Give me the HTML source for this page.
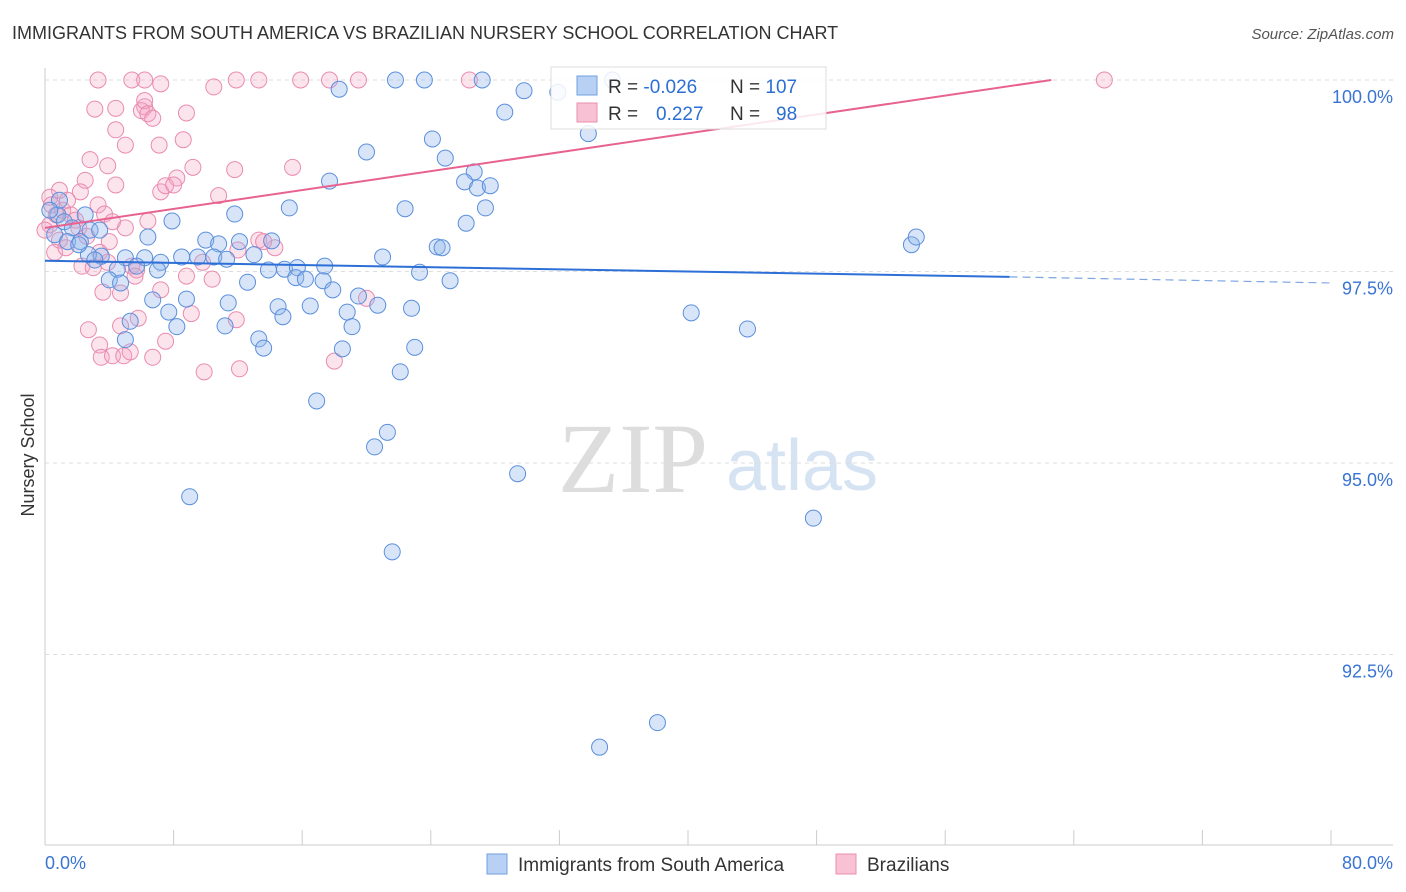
<!DOCTYPE html>
<html><head><meta charset="utf-8"><style>
body{margin:0;background:#fff;font-family:"Liberation Sans",sans-serif;}
svg{display:block}
</style></head><body>
<svg id="chart" width="1406" height="892" xmlns="http://www.w3.org/2000/svg">
<text x="12" y="39" font-size="18" fill="#333">IMMIGRANTS FROM SOUTH AMERICA VS BRAZILIAN NURSERY SCHOOL CORRELATION CHART</text>
<text x="1394" y="39" font-size="15" fill="#555" font-style="italic" text-anchor="end">Source: ZipAtlas.com</text>
<text x="633" y="492" font-size="100" fill="#ddd" font-family="Liberation Serif,serif" text-anchor="middle">ZIP</text>
<text x="802" y="490" font-size="72" fill="#d6e3f3" text-anchor="middle">atlas</text>
<text transform="translate(34,455) rotate(-90)" font-size="18" fill="#333" text-anchor="middle">Nursery School</text>
<g id="grid"></g><g id="pts"></g><g id="trend"></g>
<g>
<rect x="551" y="67" width="275" height="62" fill="#fff" fill-opacity="0.85" stroke="#ddd"/>
<rect x="577" y="76" width="20" height="19" fill="#b7d0f3" stroke="#6f9fe0"/>
<rect x="577" y="103" width="20" height="19" fill="#f8c2d4" stroke="#ea8eb0"/>
<text x="608" y="93" font-size="19" fill="#333">R = <tspan fill="#2b6fd4">-0.026</tspan></text>
<text x="730" y="93" font-size="19" fill="#333">N = <tspan fill="#2b6fd4">107</tspan></text>
<text x="608" y="120" font-size="19" fill="#333">R = <tspan fill="#2b6fd4" x="656">0.227</tspan></text>
<text x="730" y="120" font-size="19" fill="#333">N = <tspan fill="#2b6fd4" x="776">98</tspan></text>
</g>
<g>
<rect x="487" y="854" width="20" height="20" fill="#b7d0f3" stroke="#6f9fe0"/>
<text x="518" y="871" font-size="19" fill="#333">Immigrants from South America</text>
<rect x="836" y="854" width="20" height="20" fill="#f8c2d4" stroke="#ea8eb0"/>
<text x="867" y="871" font-size="19" fill="#333">Brazilians</text>
</g>
</svg>
<script>
const xTickVals=[0,8,16,24,32,40,48,56,64,72,80];
const yTickVals=[100,97.5,95,92.5];
const yTickLabels=["100.0%","97.5%","95.0%","92.5%"];
const xEndLabels=["0.0%","80.0%"];
const blueX=[21.8,23.6,27.2,18.3,29.8,31.9,35.3,28.6,33.8,24.1,20.0,24.9,26.7,26.1,26.9,27.7,17.7,22.4,27.4,15.2,11.8,7.9,26.2,24.4,24.7,6.4,10.0,12.1,14.1,10.8,13.0,8.5,9.5,10.5,11.3,6.2,7.2,5.0,3.5,5.7,4.5,7.0,13.9,14.9,15.7,17.4,21.0,23.3,25.2,15.6,16.2,17.3,12.6,4.0,4.7,6.7,8.8,11.4,14.5,16.5,19.5,17.9,20.7,22.8,18.8,14.8,7.7,11.2,8.2,5.3,19.1,13.3,13.6,18.5,23.0,5.0,22.1,16.9,21.3,20.5,29.4,21.6,9.0,40.2,43.7,53.9,54.2,47.8,38.1,34.5,0.8,1.2,1.7,0.6,1.4,2.2,2.8,3.4,2.7,3.1,2.1,2.5,0.9,0.3];
const blueY=[100,100,100,99.88,99.86,99.84,100,99.58,99.30,99.23,99.06,98.98,98.80,98.67,98.59,98.62,98.68,98.32,98.33,98.33,98.25,98.16,98.13,97.82,97.81,97.95,97.91,97.89,97.90,97.86,97.72,97.69,97.69,97.69,97.66,97.68,97.62,97.68,97.70,97.57,97.53,97.52,97.52,97.53,97.55,97.57,97.69,97.49,97.38,97.42,97.40,97.38,97.36,97.39,97.35,97.13,97.14,97.09,97.04,97.05,97.18,97.26,97.06,97.02,96.97,96.91,96.97,96.79,96.78,96.85,96.78,96.62,96.50,96.49,96.51,96.61,96.19,95.81,95.40,95.21,94.86,93.84,94.56,96.96,96.75,97.85,97.95,94.28,91.61,91.29,98.24,98.15,98.07,97.98,97.89,97.89,98.04,98.04,97.72,97.65,97.85,98.24,98.43,98.30];
const pinkX=[3.3,5.4,6.2,7.2,10.5,11.9,13.3,15.9,17.7,19.5,26.4,65.9,3.1,4.4,6.2,6.0,6.2,6.4,6.7,8.8,4.4,5.0,7.1,8.6,2.8,3.9,8.2,9.2,11.8,15.4,2.5,4.4,7.2,7.5,8.0,10.8,2.2,3.3,3.7,0.9,0.3,1.1,1.6,1.9,2.1,4.2,6.4,5.0,4.0,2.6,0.9,0.6,1.3,3.4,3.9,5.4,2.3,3.0,5.7,8.8,10.4,9.8,12.0,13.3,14.3,13.6,3.6,4.7,5.6,7.2,9.1,11.9,20.0,2.7,4.7,5.8,7.5,3.4,3.5,4.2,4.9,5.3,6.7,9.9,12.1,18.0,0.3,0.4,0.7,1.4,0];
const pinkY=[100,100,100,99.95,99.91,100,100,100,100,100,100,100,99.62,99.63,99.65,99.60,99.73,99.56,99.50,99.57,99.35,99.15,99.15,99.22,98.96,98.88,98.72,98.86,98.83,98.86,98.69,98.63,98.54,98.62,98.63,98.49,98.54,98.37,98.25,98.56,98.47,98.30,98.24,98.17,98.07,98.15,98.16,98.07,97.89,97.96,97.91,97.75,97.81,97.75,97.62,97.57,97.57,97.55,97.52,97.44,97.40,97.62,97.78,97.91,97.81,97.89,97.23,97.22,97.44,97.26,96.95,96.87,97.15,96.74,96.79,96.89,96.59,96.54,96.38,96.40,96.40,96.45,96.38,96.19,96.23,96.33,98.11,98.37,98.24,98.43,98.04];
const blueTrend=[[0,97.64],[60,97.43]];
const blueTrendDash=[[60,97.43],[80,97.35]];
const pinkTrend=[[0,98.07],[62.6,100]];

const NS="http://www.w3.org/2000/svg";
const X0=45,X1=1331,Y100=80,PXPER=76.6;
const sx=v=>X0+(v/80)*(X1-X0);
const sy=v=>Y100+(100-v)*PXPER;
function mk(tag,attrs,parent){const e=document.createElementNS(NS,tag);for(const k in attrs)e.setAttribute(k,attrs[k]);parent.appendChild(e);return e;}
const grid=document.getElementById('grid'),pts=document.getElementById('pts'),tr=document.getElementById('trend');
// axes
let ax=mk('line',{x1:X0,x2:X0,y1:68,y2:845,stroke:'#ccc'},grid);


let bx=mk('line',{x1:X0,x2:1393,y1:845,y2:845,stroke:'#ccc'},grid);


xTickVals.forEach(v=>{const t=mk('line',{x1:sx(v),x2:sx(v),y1:830,y2:845,stroke:'#ccc'},grid);

});
yTickVals.forEach((v,i)=>{const g=mk('line',{x1:X0,x2:1393,y1:sy(v),y2:sy(v),stroke:'#ddd','stroke-dasharray':'4,4'},grid);


const t=mk('text',{x:1393,y:sy(v)+23,'font-size':18,fill:'#3a74d2','text-anchor':'end'},grid);t.textContent=yTickLabels[i];

});
const xl0=mk('text',{x:45,y:869,'font-size':18,fill:'#3a74d2'},grid);xl0.textContent=xEndLabels[0];


const xl1=mk('text',{x:1393,y:869,'font-size':18,fill:'#3a74d2','text-anchor':'end'},grid);xl1.textContent=xEndLabels[1];


pinkX.forEach((v,i)=>{const c=mk('circle',{cx:sx(v),cy:sy(pinkY[i]),r:8,fill:'#f4a6c2','fill-opacity':0.3,stroke:'#e98bb0','stroke-width':1},pts);

});
blueX.forEach((v,i)=>{const c=mk('circle',{cx:sx(v),cy:sy(blueY[i]),r:8,fill:'#8fb5ec','fill-opacity':0.35,stroke:'#5b8fdc','stroke-width':1},pts);

});
let l1=mk('line',{x1:sx(blueTrend[0][0]),y1:sy(blueTrend[0][1]),x2:sx(blueTrend[1][0]),y2:sy(blueTrend[1][1]),stroke:'#2d6fd6','stroke-width':2},tr);


let l2=mk('line',{x1:sx(blueTrendDash[0][0]),y1:sy(blueTrendDash[0][1]),x2:sx(blueTrendDash[1][0]),y2:sy(blueTrendDash[1][1]),stroke:'#7fa6e3','stroke-width':1.2,'stroke-dasharray':'8,5'},tr);


let l3=mk('line',{x1:sx(pinkTrend[0][0]),y1:sy(pinkTrend[0][1]),x2:sx(pinkTrend[1][0]),y2:sy(pinkTrend[1][1]),stroke:'#e8628f','stroke-width':2},tr);


</script>
</body></html>
